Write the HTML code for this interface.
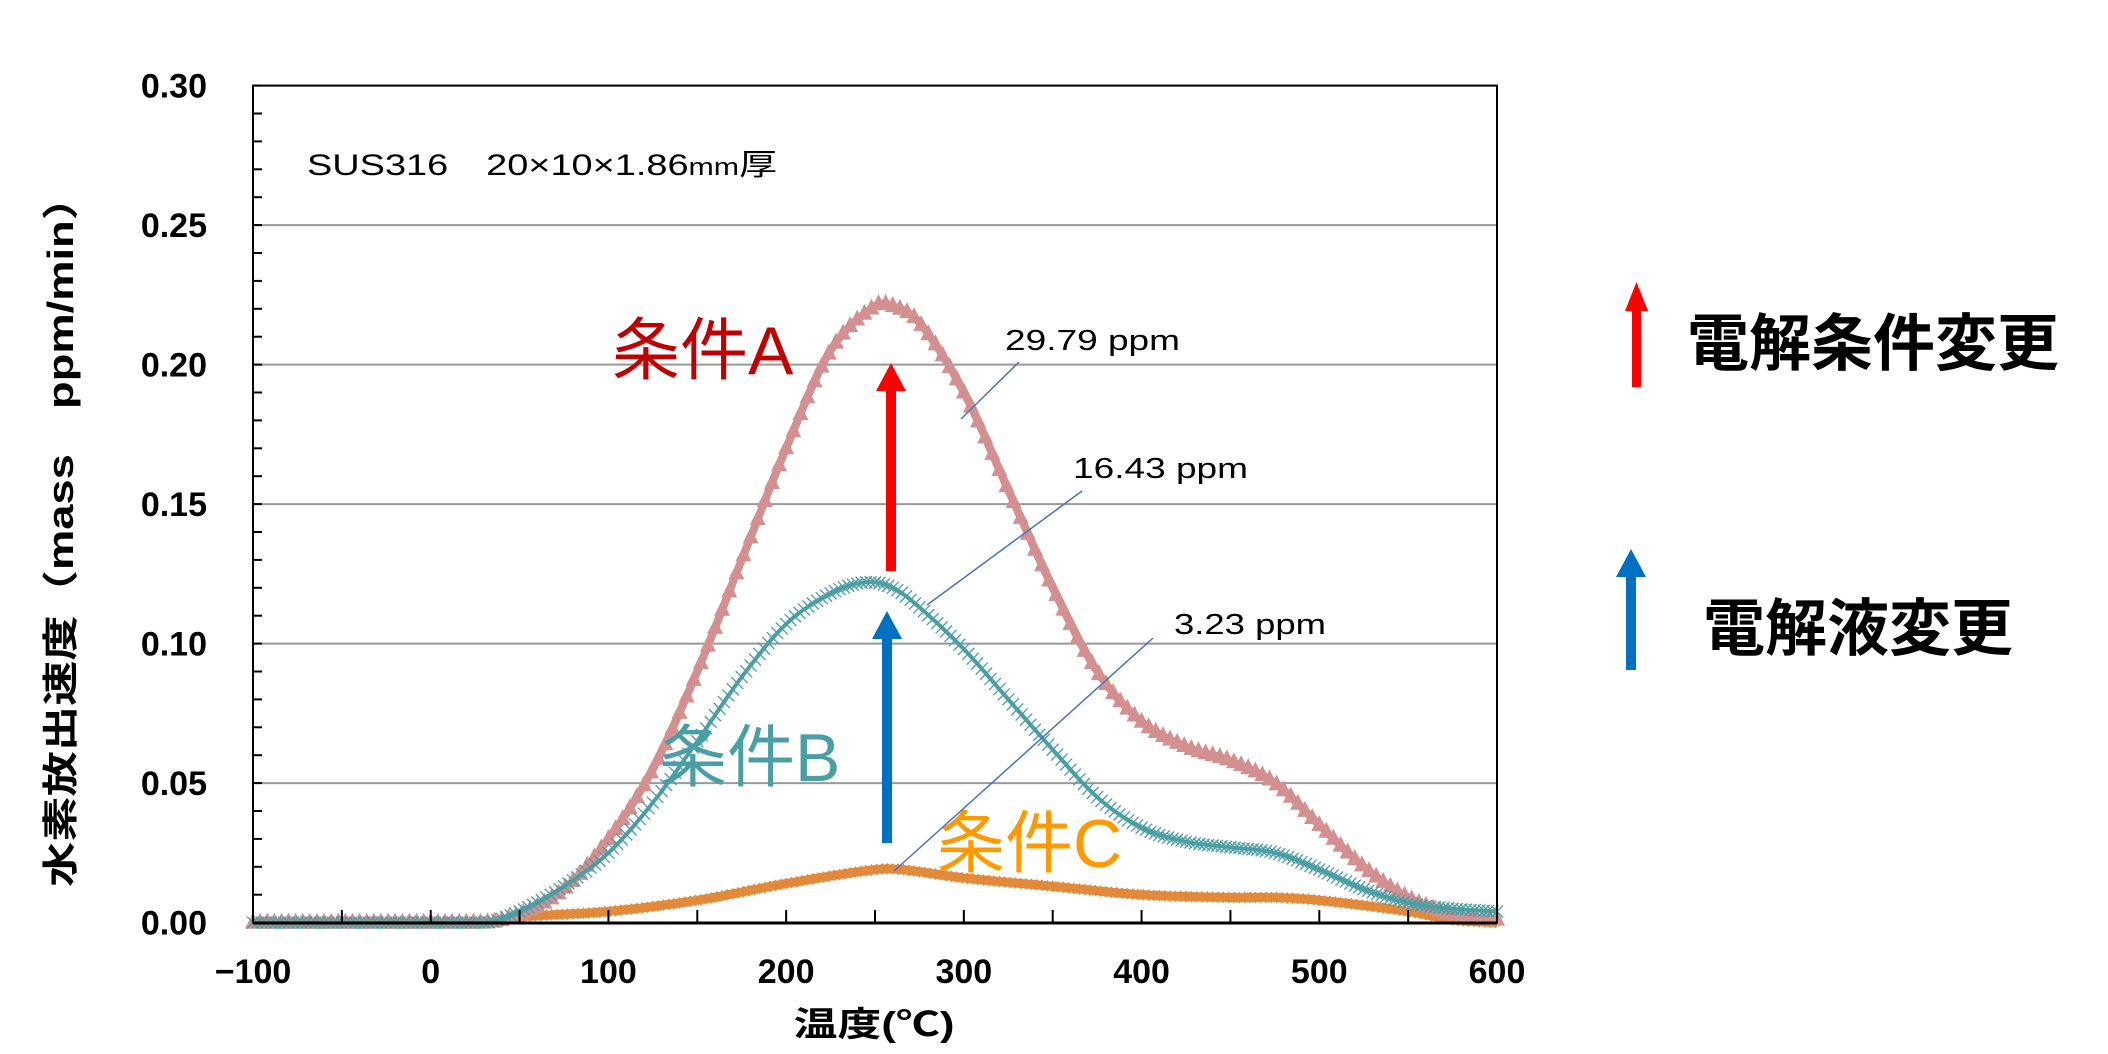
<!DOCTYPE html>
<html><head><meta charset="utf-8"><style>
html,body{margin:0;padding:0;background:#fff;}
svg{display:block;}
text{font-family:"Liberation Sans","Noto Sans CJK JP",sans-serif;}
</style></head><body>
<svg id="s" width="2108" height="1054" xmlns="http://www.w3.org/2000/svg">
<rect width="2108" height="1054" fill="#fff"/>
<g id="grid"></g>
<g id="curves"></g>
<g id="axes"></g>
<text x="307" y="175" font-size="30" fill="#000" textLength="470" lengthAdjust="spacingAndGlyphs">SUS316　20×10×1.86<tspan font-size="24">mm</tspan>厚</text>
<text x="612" y="374" font-size="68" fill="#c00000">条件A</text>
<text x="659" y="781" font-size="68" fill="#4a9ea5">条件B</text>
<text x="937" y="867" font-size="68" fill="#ff9900">条件C</text>
<text x="1005" y="350" font-size="29" fill="#000" textLength="175" lengthAdjust="spacingAndGlyphs">29.79 ppm</text>
<text x="1073" y="478" font-size="29" fill="#000" textLength="175" lengthAdjust="spacingAndGlyphs">16.43 ppm</text>
<text x="1174" y="634" font-size="29" fill="#000" textLength="152" lengthAdjust="spacingAndGlyphs">3.23 ppm</text>
<line x1="1019" y1="362" x2="961" y2="419" stroke="#4472c4" stroke-width="1.5"/>
<line x1="1082" y1="491" x2="927" y2="605" stroke="#4472c4" stroke-width="1.5"/>
<line x1="1153" y1="638" x2="894" y2="871" stroke="#4472c4" stroke-width="1.5"/>
<rect x="886" y="390" width="10" height="181" fill="#ff0000"/>
<polygon points="891,363 876,391 906,391" fill="#ff0000"/>
<rect x="882" y="638" width="10" height="205" fill="#0070c0"/>
<polygon points="887,611 872,639 902,639" fill="#0070c0"/>
<rect x="1632" y="310" width="9" height="77" fill="#ff0000"/>
<polygon points="1636.5,282 1625,311 1648,311" fill="#ff0000"/>
<rect x="1626" y="575" width="10" height="95" fill="#0070c0"/>
<polygon points="1631,549 1616,577 1646,577" fill="#0070c0"/>
<text x="1687" y="365" font-size="62" fill="#000" font-weight="bold">電解条件変更</text>
<text x="1703" y="650" font-size="62" fill="#000" font-weight="bold">電解液変更</text>
<text x="874" y="1036" font-size="34" font-weight="bold" text-anchor="middle" fill="#000" textLength="161" lengthAdjust="spacingAndGlyphs">温度(℃)</text>
<text transform="translate(73,531) rotate(-90)" font-size="36" font-weight="bold" text-anchor="middle" fill="#000" textLength="712" lengthAdjust="spacingAndGlyphs">水素放出速度（mass　ppm/min）</text>
</svg>
<script>
var NS="http://www.w3.org/2000/svg";
function X(t){return 253+(t+100)*(1497-253)/700;}
function Y(v){return 922.6-v*837/0.3;}
function el(p,n,a){var e=document.createElementNS(NS,n);for(var k in a)e.setAttribute(k,a[k]);p.appendChild(e);return e;}
var grid=document.getElementById('grid'),axes=document.getElementById('axes'),cur=document.getElementById('curves');
for(var i=1;i<=5;i++){el(grid,'line',{x1:253,x2:1497,y1:Y(i*0.05),y2:Y(i*0.05),stroke:'#999','stroke-width':2});}
for(var i=0;i<=30;i++){el(axes,'line',{x1:253,x2:262,y1:Y(i*0.01),y2:Y(i*0.01),stroke:'#000','stroke-width':2});}
for(var t=-100;t<=600;t+=50){el(axes,'line',{x1:X(t),x2:X(t),y1:922,y2:910,stroke:'#000','stroke-width':2});}
el(axes,'rect',{x:253,y:85.6,width:1244,height:837,fill:'none',stroke:'#000','stroke-width':2});
el(axes,'line',{x1:253,x2:1497,y1:923,y2:923,stroke:'#000','stroke-width':3});
for(var i=0;i<=6;i++){var t=el(axes,'text',{x:207,y:Y(i*0.05)+12,'font-size':34,'font-weight':'bold','text-anchor':'end',fill:'#000'});t.textContent=(i*0.05).toFixed(2);}
for(var v=-100;v<=600;v+=100){var t=el(axes,'text',{x:X(v),y:983,'font-size':34,'font-weight':'bold','text-anchor':'middle',fill:'#000'});t.textContent=(v<0?'\u2212100':v);}
var A=[[-100,0],[30,0],[50,0.003],[75,0.012],[100,0.03],[125,0.055],[150,0.09],[175,0.13],[200,0.17],[225,0.205],[250,0.221],[260,0.221],[275,0.215],[300,0.19],[325,0.155],[350,0.12],[375,0.09],[400,0.072],[425,0.063],[450,0.058],[475,0.05],[500,0.035],[525,0.02],[550,0.009],[575,0.003],[600,0.001]];
var B=[[-100,0],[30,0],[50,0.004],[75,0.013],[100,0.025],[125,0.043],[150,0.065],[175,0.088],[200,0.107],[225,0.118],[245,0.122],[260,0.12],[275,0.113],[300,0.098],[325,0.08],[350,0.062],[375,0.045],[400,0.034],[425,0.029],[450,0.027],[475,0.025],[500,0.019],[525,0.012],[550,0.007],[575,0.005],[600,0.004]];
var C=[[-100,0],[30,0],[50,0.002],[100,0.004],[150,0.008],[200,0.014],[250,0.019],[265,0.019],[300,0.016],[350,0.013],[400,0.01],[450,0.009],[475,0.009],[500,0.008],[550,0.004],[575,0.001],[600,0]];
function interp(d,t){for(var i=0;i<d.length-1;i++){if(t<=d[i+1][0]){var p0=d[Math.max(0,i-1)],p1=d[i],p2=d[i+1],p3=d[Math.min(d.length-1,i+2)];var u=(t-p1[0])/(p2[0]-p1[0]);var h=p2[0]-p1[0];var m1=(p2[1]-p0[1])/(p2[0]-p0[0]||1)*h,m2=(p3[1]-p1[1])/(p3[0]-p1[0]||1)*h;var u2=u*u,u3=u2*u;var v=(2*u3-3*u2+1)*p1[1]+(u3-2*u2+u)*m1+(-2*u3+3*u2)*p2[1]+(u3-u2)*m2;return Math.max(0,v);}}return d[d.length-1][1];}
function draw(d,col,w,mk,step){var pts=[];for(var t=-100;t<=600;t+=1)pts.push(X(t).toFixed(1)+','+Y(interp(d,t)).toFixed(1));el(cur,'polyline',{points:pts.join(' '),fill:'none',stroke:col,'stroke-width':w,'stroke-linejoin':'round'});
for(var t=-100;t<=600;t+=step){var x=X(t),y=Y(interp(d,t));
if(mk=='tri')el(cur,'polygon',{points:(x)+','+(y-10)+' '+(x-8)+','+(y+6)+' '+(x+8)+','+(y+6),fill:col});
else if(mk=='x'){el(cur,'path',{d:'M'+(x-6)+' '+(y-6)+'L'+(x+6)+' '+(y+6)+'M'+(x-6)+' '+(y+6)+'L'+(x+6)+' '+(y-6),stroke:col,'stroke-width':1.3,fill:'none'});}
else el(cur,'polygon',{points:x+','+(y-6)+' '+(x+5)+','+y+' '+x+','+(y+6)+' '+(x-5)+','+y,fill:col});}}
draw(C,'#e28a3a',9,'d',3);
draw(A,'#d49090',8,'tri',4);
draw(B,'#4a9ea5',4,'x',2.5);
</script>
</body></html>
